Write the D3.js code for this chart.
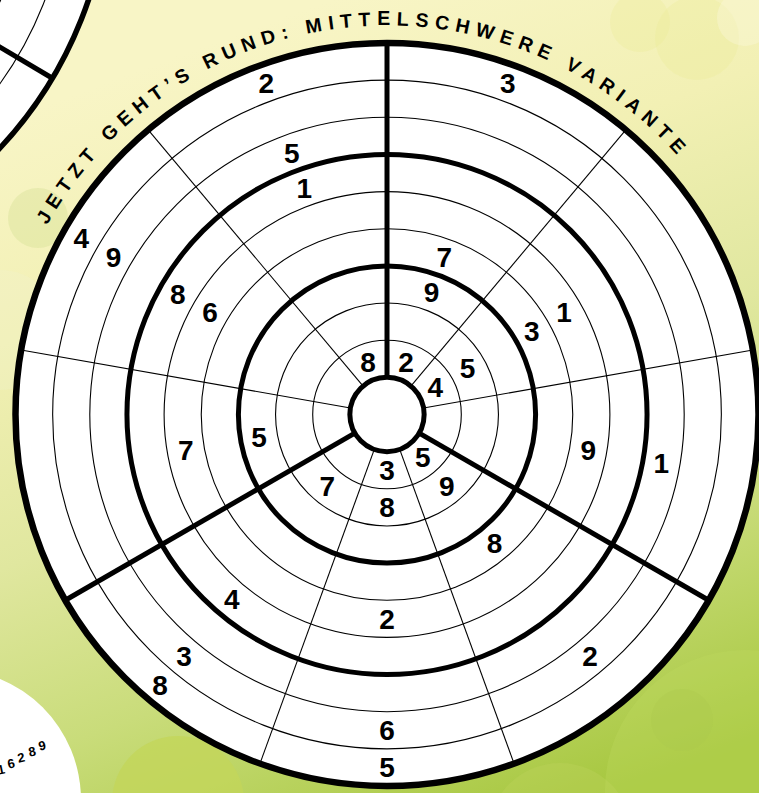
<!DOCTYPE html>
<html><head><meta charset="utf-8">
<script src="https://cdn.jsdelivr.net/npm/d3@7"></script>
<style>html,body{margin:0;padding:0;background:#fff;}svg{display:block;}</style>
</head><body>
<script>
// ---- data ----
const titleText = "JETZT GEHT\u2019S RUND: MITTELSCHWERE VARIANTE";
const sectorCount = 9;          // 40° sectors, clockwise from 12 o'clock
const ringCount = 9;            // rings outside the centre hole
const boxSectors = [0, 3, 6];   // thick radial dividers
const boxRings = [0, 3, 6, 9];  // thick ring boundaries (ring index of inner edge)
// given digits: sector, ring, value
const givenSector = [8,0,8,8,7,7,7,7,0,0,8,0,1,1,1,1,6,6,2,2,3,3,4,4,5,3,5,4,5,5,3,4,4];
const givenRing   = [8,8,6,5,8,7,5,4,3,2,0,0,4,3,1,0,4,2,4,6,0,1,0,1,1,3,5,4,7,8,7,7,8];
const givenValue  = [2,3,5,1,4,9,8,6,7,9,8,2,1,3,5,4,7,5,9,1,5,9,3,8,7,8,4,2,3,8,2,6,5];
const miniDigits = ["1","6","2","8","9"];

const W = 759, H = 793;
const cx = 387, cy = 414.5, R = 371.5;

const svg = d3.select("body").append("svg").attr("width", W).attr("height", H);
const defs = svg.append("defs");
const g0 = defs.append("linearGradient").attr("id","bg")
  .attr("gradientUnits","userSpaceOnUse").attr("x1",330).attr("y1",0).attr("x2",620).attr("y2",793);
[[0,"#f8f5c6"],[0.25,"#f2f0b4"],[0.5,"#e0e79f"],[0.72,"#c9dc7a"],[1,"#a6c73e"]]
  .forEach(([o,c]) => g0.append("stop").attr("offset",o).attr("stop-color",c));
svg.append("rect").attr("width",W).attr("height",H).attr("fill","url(#bg)");

// bokeh
const bokeh = [
  [640,22,30,"#ecea96",0.3],[697,38,42,"#ecea94",0.3],[745,18,28,"#fbfadf",0.35],
  [38,218,30,"#c9dc88",0.3],[0,330,60,"#eef4d4",0.25],
  [178,802,66,"#c3d65a",0.8],[560,835,72,"#bcd25a",0.4],
  [745,790,140,"#c0d960",0.3],[682,720,31,"#adc84e",0.35]
];
svg.append("g").selectAll("circle").data(bokeh).join("circle")
  .attr("cx",d=>d[0]).attr("cy",d=>d[1]).attr("r",d=>d[2]).attr("fill",d=>d[3]).attr("opacity",d=>d[4]);

// neighbouring puzzle (top-left)
const nb = {x:-299, y:-131, r:409};
const ng = svg.append("g");
ng.append("circle").attr("cx",nb.x).attr("cy",nb.y).attr("r",nb.r).attr("fill","#fff").attr("stroke","#000").attr("stroke-width",5.5);
ng.append("circle").attr("cx",nb.x).attr("cy",nb.y).attr("r",368).attr("fill","none").attr("stroke","#000").attr("stroke-width",1.1);
ng.append("circle").attr("cx",nb.x).attr("cy",nb.y).attr("r",327).attr("fill","none").attr("stroke","#000").attr("stroke-width",1.1);
{
  const ang = Math.atan2(78 - nb.y, 52 - nb.x);
  ng.append("line").attr("x1",nb.x + 300*Math.cos(ang)).attr("y1",nb.y + 300*Math.sin(ang))
    .attr("x2",nb.x + nb.r*Math.cos(ang)).attr("y2",nb.y + nb.r*Math.sin(ang))
    .attr("stroke","#000").attr("stroke-width",5);
}
// neighbouring solution disc (bottom-left)
svg.append("circle").attr("cx",-50).attr("cy",800).attr("r",131).attr("fill","#fff");
const miniPos = [[2,774],[12,768],[22,762],[33,756],[43,750]];
svg.append("g").selectAll("text").data(miniDigits).join("text")
  .attr("transform",(d,i)=>`translate(${miniPos[i][0]},${miniPos[i][1]}) rotate(-12)`)
  .attr("text-anchor","middle").attr("font-family","Liberation Sans, Arial, sans-serif")
  .attr("font-weight","bold").attr("font-size",13).attr("fill","#000").text(d=>d);

// main puzzle scales
const ang = d3.scaleLinear().domain([0, sectorCount]).range([0, 2*Math.PI]);
const rad = d3.scaleLinear().domain([0, ringCount + 1]).range([0, R]); // unit 0..1 = hole
const px = (a, r) => cx + r*Math.sin(a);
const py = (a, r) => cy - r*Math.cos(a);

const mg = svg.append("g");
mg.append("circle").attr("cx",cx).attr("cy",cy).attr("r",R).attr("fill","#fff");
// thin rings
mg.append("g").selectAll("circle").data(d3.range(1, ringCount+1).filter(i=>!boxRings.includes(i-1)))
  .join("circle").attr("cx",cx).attr("cy",cy).attr("r",i=>rad(i))
  .attr("fill","none").attr("stroke","#000").attr("stroke-width",1.1);
// thin spokes
mg.append("g").selectAll("line").data(d3.range(sectorCount).filter(s=>!boxSectors.includes(s)))
  .join("line")
  .attr("x1",s=>px(ang(s),rad(1))).attr("y1",s=>py(ang(s),rad(1)))
  .attr("x2",s=>px(ang(s),R)).attr("y2",s=>py(ang(s),R))
  .attr("stroke","#000").attr("stroke-width",1.1);
// thick spokes
mg.append("g").selectAll("line").data(boxSectors).join("line")
  .attr("x1",s=>px(ang(s),rad(1))).attr("y1",s=>py(ang(s),rad(1)))
  .attr("x2",s=>px(ang(s),R)).attr("y2",s=>py(ang(s),R))
  .attr("stroke","#000").attr("stroke-width",5);
// thick rings
mg.append("g").selectAll("circle").data(boxRings).join("circle")
  .attr("cx",cx).attr("cy",cy).attr("r",i=>rad(i+1))
  .attr("fill","none").attr("stroke","#000").attr("stroke-width",i=>i===9?6.5:5);

// digits
const cells = givenValue.map((v,i)=>({s:givenSector[i], r:givenRing[i], v}));
mg.append("g").selectAll("text").data(cells).join("text")
  .attr("x",d=>px(ang(d.s+0.5), rad(d.r+1.5)))
  .attr("y",d=>py(ang(d.s+0.5), rad(d.r+1.5)) + 10)
  .attr("text-anchor","middle").attr("font-family","Liberation Sans, Arial, sans-serif")
  .attr("font-weight","bold").attr("font-size",28).attr("fill","#000").text(d=>d.v);

// curved title
const tr = 389, a0 = -100*Math.PI/180, a1 = 90*Math.PI/180;
defs.append("path").attr("id","tp")
  .attr("d",`M${px(a0,tr)},${py(a0,tr)} A${tr},${tr} 0 1 1 ${px(a1,tr)},${py(a1,tr)}`);
const fontSize = 19.5;
const probe = svg.append("text").attr("font-family","Liberation Sans, Arial, sans-serif")
  .attr("font-weight","bold").attr("font-size",fontSize).text(titleText);
const L0 = probe.node().getComputedTextLength();
probe.remove();
const centerDeg = -6.4, spanDeg = 109;
const target = tr * spanDeg*Math.PI/180;
const ls = (target - L0)/(titleText.length - 1);
const startOff = tr * (centerDeg + 100)*Math.PI/180;
svg.append("text").attr("font-family","Liberation Sans, Arial, sans-serif")
  .attr("font-weight","bold").attr("font-size",fontSize).attr("fill","#000")
  .attr("letter-spacing",ls)
  .append("textPath").attr("href","#tp").attr("startOffset",startOff - target/2)
  .text(titleText);
</script>
</body></html>
